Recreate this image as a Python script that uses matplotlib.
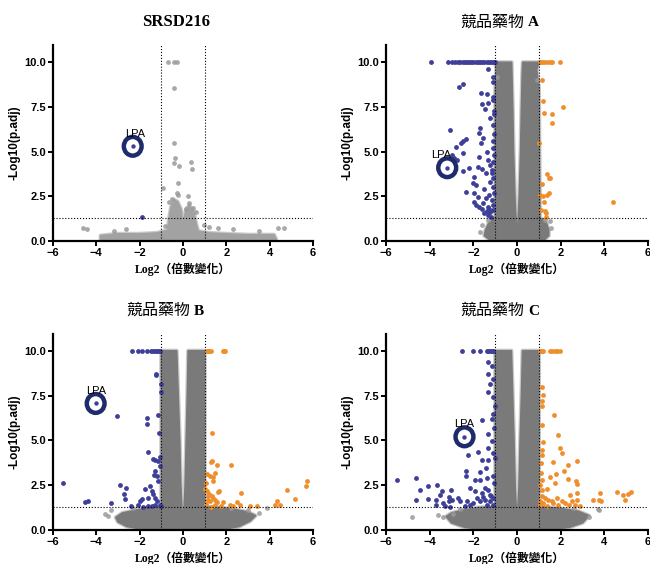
import matplotlib
matplotlib.use("Agg")
import matplotlib.pyplot as plt
from matplotlib.patches import Ellipse

# ---- SRSD216 ----
s_cloud_x = [-3.8, -3.8, -3.0, -2.0, -1.2, -0.7, -0.65, -0.55, -0.4, -0.25, -0.1, -0.04, 0.0,
             0.06, 0.15, 0.3, 0.5, 0.6, 0.7, 1.2, 2.0, 3.0, 4.2, 4.3, 3.0, 0.0]
s_cloud_y = [0.05, 0.3, 0.4, 0.4, 0.45, 0.6, 1.2, 1.9, 2.3, 2.2, 1.8, 1.3, 0.5,
             1.3, 1.8, 2.0, 1.6, 1.0, 0.55, 0.45, 0.4, 0.35, 0.35, 0.1, 0.03, 0.0]
s_grey_x = [-0.71, -0.4, -0.29, -0.4, -0.4, -0.35, -0.42, -0.17, 0.35, 0.4, -0.23, -0.91, -0.29,
            -0.25, -0.49, -0.63, 0.21, 0.45, 0.6, 0.12, 0.29, -4.6, -4.42, 4.4, 4.67, 2.32, 1.62,
            1.22, -2.64, -3.2, 3.5, 0.95, -0.85]
s_grey_y = [10.0, 10.0, 10.0, 8.57, 5.49, 4.62, 4.34, 4.21, 4.43, 4.02, 3.26, 2.94, 2.7,
            2.57, 2.35, 2.2, 2.51, 1.86, 1.64, 1.8, 2.1, 0.74, 0.65, 0.7, 0.74, 0.68, 0.72,
            0.76, 0.65, 0.55, 0.55, 0.9, 0.85]
s_top_blue = []
s_top_orange = []
s_blue_x = [-1.91]
s_blue_y = [1.32]
s_orange_x = []
s_orange_y = []
s_lpa = (-2.32, 5.3)

# ---- 競品藥物 A ----
a_cloud_x = [-1.0, -0.95, -1.0, -1.0, -1.3, -1.45, -1.5, -1.2, 0.0, 1.2, 1.45, 1.45, 1.35, 1.05,
             1.0, 0.9, 1.0, 0.26, 0.24, 0.2, 0.16, 0.1, 0.04, 0.0, -0.04, -0.1, -0.16, -0.2, -0.24, -0.25]
a_cloud_y = [10, 9.6, 8.5, 1.3, 1.0, 0.6, 0.3, 0.02, 0.0, 0.02, 0.3, 0.6, 1.0, 1.3,
             8.5, 9.6, 10, 10, 9.5, 7.5, 5.0, 2.5, 1.0, 0.4, 1.0, 2.5, 5.0, 7.5, 9.5, 10]
a_grey_x = [-1.6, -1.7, 1.55, 1.5, 0.9, -0.9, -1.35, 1.3]
a_grey_y = [0.9, 0.5, 0.7, 1.1, 9.0, 9.2, 1.2, 1.2]
a_top_blue = [-3.95, -3.15, -3.0, -2.85, -2.7, -2.6, -2.5, -2.4, -2.3, -2.2, -2.1, -2.0, -1.9,
              -1.8, -1.7, -1.6, -1.5, -1.4, -1.3, -1.2, -1.1, -1.02]
a_top_orange = [1.05, 1.15, 1.25, 1.35, 1.5, 1.62, 1.95]
a_blue_x = [-1.31, -2.5, -2.66, -1.66, -1.36, -1.62, -1.45, -1.31, -1.08, -1.04, -1.05, -1.24,
            -3.07, -2.34, -2.49, -2.58, -2.79, -1.7, -1.73, -1.66, -1.56, -2.99, -2.88, -2.73,
            -2.5, -1.73, -1.78, -1.39, -1.31, -1.24, -1.62, -1.42, -1.16, -2.2, -2.46, -1.96,
            -2.0, -1.88, -2.34, -1.96, -1.81, -1.99, -1.88, -1.73, -1.57, -1.42, -1.34, -1.5,
            -1.34, -1.19, -1.11, -1.08, -1.1, -1.12, -1.06, -1.1, -1.08, -1.12, -1.06, -1.1,
            -1.14, -1.08, -1.12, -1.06, -1.15, -1.1, -1.22, -1.28, -1.4, -1.6, -1.3, -1.5, -1.25]
a_blue_y = [9.6, 8.77, 8.6, 8.3, 8.25, 7.65, 7.4, 7.7, 8.06, 7.13, 6.0, 6.86,
            6.2, 5.68, 5.59, 5.46, 5.27, 6.3, 6.02, 5.46, 5.74, 4.8, 4.62, 4.52,
            4.95, 4.7, 4.15, 5.0, 4.52, 4.25, 4.05, 3.78, 3.78, 4.06, 3.93, 3.59,
            3.22, 3.13, 2.76, 2.66, 2.48, 2.2, 2.01, 1.92, 2.1, 2.38, 1.92, 1.55,
            1.45, 1.36, 1.73, 9.2, 8.9, 7.9, 7.3, 6.5, 5.6, 5.2, 4.8, 4.4,
            3.95, 3.5, 3.0, 2.7, 2.3, 2.0, 1.6, 1.8, 1.7, 1.8, 2.6, 2.9, 3.3]
a_orange_x = [1.13, 1.2, 2.09, 1.22, 1.59, 1.59, 1.02, 1.39, 1.5, 1.46, 1.13, 1.05, 1.2, 1.36,
              1.47, 1.23, 1.26, 1.33, 1.08, 1.33, 4.41]
a_orange_y = [9.0, 7.84, 7.5, 7.17, 7.08, 6.61, 5.46, 3.74, 3.5, 3.5, 3.18, 2.57, 2.53, 2.57,
              2.66, 2.2, 1.69, 1.55, 1.73, 1.36, 2.2]
a_lpa = (-3.2, 4.1)

# ---- 競品藥物 B ----
b_cloud_x = [-1.0, -1.0, -1.6, -2.2, -2.8, -3.1, -3.0, -2.6, -1.8, 0.0, 1.8, 2.6, 3.1, 3.35,
             3.0, 2.4, 1.7, 1.0, 1.0, 0.24, 0.2, 0.15, 0.1, 0.05, 0.0, -0.05, -0.1, -0.15, -0.22, -0.29]
b_cloud_y = [10, 1.3, 1.25, 1.1, 0.95, 0.7, 0.45, 0.2, 0.02, 0.0, 0.02, 0.2, 0.5, 0.8,
             1.0, 1.15, 1.25, 1.3, 10, 10, 7.5, 5.0, 2.5, 1.2, 0.8, 1.2, 2.5, 5.0, 7.5, 10]
b_grey_x = [-3.45, 3.86, -3.3, 3.5, -3.6, 3.0, -2.3, 2.2]
b_grey_y = [0.8, 1.22, 1.1, 0.95, 0.9, 1.1, 1.2, 1.25]
b_top_blue = [-2.34, -2.06, -1.88, -1.68, -1.48, -1.37, -1.29, -1.22, -1.14, -1.06]
b_top_orange = [1.09, 1.15, 1.22, 1.28, 1.83, 1.88, 1.94]
b_blue_x = [-1.26, -1.24, -1.03, -1.0, -3.03, -1.68, -1.68, -1.15, -1.12, -1.6, -1.37, -1.29,
            -1.06, -1.15, -1.06, -1.29, -1.32, -1.2, -1.15, -5.52, -2.91, -2.65, -2.71, -2.68,
            -2.4, -1.75, -1.52, -1.45, -1.37, -1.29, -1.21, -1.6, -1.91, -1.98, -1.83, -1.6,
            -1.45, -1.29, -1.06, -1.02, -2.09, -4.52, -4.4, -3.32]
b_blue_y = [8.7, 8.65, 8.15, 7.68, 6.37, 6.24, 5.9, 6.42, 5.43, 4.36, 3.97, 3.93,
            4.08, 3.84, 3.56, 3.28, 3.09, 2.99, 2.71, 2.62, 2.49, 2.34, 2.0, 1.74,
            1.33, 2.28, 2.43, 2.15, 2.0, 1.78, 1.59, 1.78, 1.72, 1.59, 1.31, 1.32,
            1.35, 1.4, 1.4, 1.33, 1.4, 1.56, 1.63, 1.5]
b_orange_x = [1.35, 1.29, 1.35, 1.55, 2.21, 1.09, 1.24, 1.4, 1.47, 1.37, 1.02, 1.12, 1.21, 1.32,
              1.4, 1.17, 1.24, 1.48, 1.55, 1.63, 1.67, 1.28, 1.48, 2.66, 2.48, 2.63, 2.17, 2.29,
              1.86, 1.74, 3.09, 3.43, 4.81, 5.17, 5.66, 5.74, 4.32, 4.47, 4.25, 1.05, 1.15, 1.08]
b_orange_y = [5.39, 3.78, 3.84, 3.6, 3.61, 3.13, 2.99, 2.94, 3.18, 2.71, 2.3, 2.15, 2.0, 1.87,
              1.78, 1.69, 1.59, 1.65, 1.54, 2.1, 2.19, 1.31, 1.4, 2.06, 1.54, 1.37, 1.4, 1.35,
              1.54, 1.32, 1.32, 1.32, 2.25, 1.72, 2.47, 2.75, 1.59, 1.4, 1.37, 1.45, 1.9, 2.6]
b_lpa = (-4.03, 7.06)

# ---- 競品藥物 C ----
c_cloud_x = [-1.0, -1.0, -1.8, -2.5, -3.0, -3.25, -3.0, -2.4, -1.5, 0.0, 1.5, 2.4, 3.0, 3.3,
             2.8, 2.0, 1.0, 1.0, 0.25, 0.2, 0.14, 0.09, 0.04, 0.0, -0.04, -0.09, -0.14, -0.2, -0.26]
c_cloud_y = [10, 1.3, 1.25, 1.1, 0.95, 0.75, 0.4, 0.15, 0.02, 0.0, 0.02, 0.15, 0.4, 0.8,
             1.05, 1.2, 1.3, 10, 10, 7.5, 5.0, 2.5, 1.3, 0.8, 1.3, 2.5, 5.0, 7.5, 10]
c_grey_x = [-4.82, -3.62, -3.39, -2.95, 3.73, 3.76, 3.3, -2.6, 2.6]
c_grey_y = [0.75, 0.85, 0.75, 0.9, 1.18, 1.1, 0.7, 1.15, 1.2]
c_top_blue = [-2.53, -2.0, -1.69, -1.39, -1.31, -1.24, -1.16, -1.08]
c_top_orange = [1.05, 1.12, 1.2, 1.5, 1.62, 1.72, 1.85, 1.95]
c_blue_x = [-1.31, -1.16, -1.31, -1.08, -1.22, -1.31, -1.08, -1.0, -1.12, -1.16, -1.62, -1.31,
            -1.16, -1.31, -1.08, -1.31, -1.0, -2.23, -1.77, -1.62, -2.34, -2.34, -1.69, -1.92,
            -1.69, -1.42, -1.39, -3.02, -2.15, -1.94, -1.62, -1.47, -1.31, -1.24, -1.85, -1.47,
            -1.24, -1.08, -1.39, -1.08, -1.69, -2.0, -2.15, -2.3, -2.38, -5.51, -4.63, -4.44,
            -4.09, -3.65, -4.63, -4.09, -3.7, -3.42, -3.53, -3.14, -2.99, -3.14, -3.06, -2.69,
            -2.61, -3.7, -3.38, -3.3, -1.05, -1.1, -1.05, -1.2, -1.55]
c_blue_y = [9.36, 9.17, 8.7, 8.43, 8.15, 7.68, 7.4, 6.93, 6.46, 6.18, 6.14, 5.34,
            4.96, 4.59, 4.31, 3.93, 4.03, 4.18, 4.36, 3.93, 3.31, 2.99, 3.26, 2.81,
            2.77, 3.46, 2.9, 2.25, 2.34, 2.15, 2.06, 2.34, 2.25, 1.97, 1.78, 1.69,
            1.59, 1.78, 1.4, 1.4, 1.59, 1.5, 1.4, 1.59, 1.32, 2.77, 2.9, 2.21,
            2.43, 2.49, 1.69, 1.74, 1.69, 2.19, 1.97, 1.82, 1.69, 1.59, 1.31, 1.78,
            1.59, 1.4, 1.5, 1.32, 2.6, 3.0, 5.7, 1.9, 1.85]
c_orange_x = [1.13, 1.2, 1.16, 1.13, 1.13, 1.2, 1.16, 1.13, 1.1, 1.7, 1.87, 1.97, 2.05, 1.66,
              2.76, 2.32, 2.17, 1.77, 1.51, 1.74, 2.32, 2.69, 2.76, 1.36, 1.05, 1.13, 2.76, 2.44,
              2.74, 3.8, 3.46, 3.77, 4.57, 4.83, 4.95, 5.06, 5.21, 1.13, 1.28, 1.43, 1.59, 1.66,
              1.81, 1.89, 2.05, 2.2, 2.36, 2.51, 2.66, 2.89, 1.2, 1.36, 1.05, 3.83, 1.1, 1.15, 1.05]
c_orange_y = [7.96, 7.55, 7.21, 6.93, 5.84, 4.93, 4.49, 4.21, 3.75, 6.42, 5.3, 4.59, 4.31, 3.8,
              3.84, 3.65, 3.28, 3.13, 2.94, 2.62, 2.87, 2.71, 2.56, 2.3, 2.49, 2.24, 2.06, 1.97,
              1.65, 2.06, 1.65, 1.65, 2.12, 1.97, 1.65, 2.0, 2.1, 1.87, 1.78, 1.69, 1.59, 1.5,
              1.78, 1.4, 1.59, 1.5, 1.4, 1.59, 1.37, 1.35, 1.5, 1.32, 1.4, 1.6, 3.2, 2.8, 1.6]
c_lpa = (-2.41, 5.2)

BLUE = "#3d3f98"
ORANGE = "#ef8e2b"
GREY = "#7a7a7a"
RING = "#1f2c6c"
SERIF_CJK = ["Liberation Serif", "Noto Sans CJK TC"]


def draw_title(ax, cjk, latin):
    # CJK part in plain sans, latin part in bold serif, sharing one baseline
    if cjk:
        ax.text(0.528, 1.097, cjk, transform=ax.transAxes, ha="right", va="baseline",
                fontsize=11.5, family="Noto Sans CJK TC")
        ax.text(0.543, 1.097, latin, transform=ax.transAxes, ha="left", va="baseline",
                fontsize=11, fontweight="bold", family="Liberation Serif")
    else:
        ax.text(0.473, 1.097, latin, transform=ax.transAxes, ha="center", va="baseline",
                fontsize=12, fontweight="bold", family="Liberation Serif")


def draw_panel(ax, cjk, latin, cloud, grey, top_blue, top_orange, blue, orange, lpa,
               lpa_dx=0.0, cloud_color=GREY):
    # soft edge first, then the dense cloud itself
    ax.fill(cloud[0], cloud[1], color="#a8a8a8", lw=3, ec="#a8a8a8",
            alpha=0.6, zorder=1, joinstyle="round")
    ax.fill(cloud[0], cloud[1], color=cloud_color, lw=1.2, ec=cloud_color,
            zorder=1, joinstyle="round")
    ax.scatter(grey[0], grey[1], s=12, color="#9a9a9a", alpha=0.85, lw=0, zorder=2)
    ax.scatter(top_blue, [10] * len(top_blue), s=12, color=BLUE, lw=0, zorder=3)
    ax.scatter(top_orange, [10] * len(top_orange), s=12, color=ORANGE, lw=0, zorder=3)
    ax.scatter(blue[0], blue[1], s=12, color=BLUE, lw=0, zorder=3)
    ax.scatter(orange[0], orange[1], s=12, color=ORANGE, lw=0, zorder=3)

    # LPA highlight
    ax.scatter([lpa[0]], [lpa[1]], s=10, color=BLUE, lw=0, zorder=4)
    ax.add_patch(Ellipse(lpa, 0.82, 1.05, fill=False, ec=RING, lw=3.2, zorder=5))
    ax.text(lpa[0] + lpa_dx, lpa[1] + 0.7, "LPA", ha="center", va="center",
            fontsize=8, family="Liberation Sans", zorder=6)

    ax.axhline(1.3, color="black", ls=":", lw=0.8, zorder=6)
    ax.axvline(-1, color="black", ls=":", lw=0.8, zorder=6)
    ax.axvline(1, color="black", ls=":", lw=0.8, zorder=6)

    ax.set_xlim(-6, 6)
    ax.set_ylim(0, 10.95)
    ax.set_xticks([-6, -4, -2, 0, 2, 4, 6])
    ax.set_yticks([0, 2.5, 5, 7.5, 10])
    ax.set_yticklabels(["0.0", "2.5", "5.0", "7.5", "10.0"])
    for sp in ["top", "right"]:
        ax.spines[sp].set_visible(False)
    for sp in ["left", "bottom"]:
        ax.spines[sp].set_linewidth(1.6)
    ax.tick_params(width=1.4, length=3.5, labelsize=8, pad=1.5)
    for lab in ax.get_xticklabels() + ax.get_yticklabels():
        lab.set_fontweight("bold")
        lab.set_family("Liberation Sans")

    ax.set_ylabel("-Log10(p.adj)", fontsize=8.5, fontweight="bold",
                  family="Liberation Sans", labelpad=3)
    ax.set_xlabel("Log2（倍數變化）", fontsize=8.5, fontweight="bold",
                  family=SERIF_CJK, labelpad=3)
    draw_title(ax, cjk, latin)


fig = plt.figure(figsize=(6.5, 5.64), dpi=100)
ax1 = fig.add_axes([0.0815, 0.5727, 0.40, 0.347])
ax2 = fig.add_axes([0.594, 0.5727, 0.403, 0.347])
ax3 = fig.add_axes([0.0815, 0.0603, 0.40, 0.348])
ax4 = fig.add_axes([0.594, 0.0603, 0.403, 0.348])

draw_panel(ax1, "", "SRSD216", (s_cloud_x, s_cloud_y), (s_grey_x, s_grey_y),
           s_top_blue, s_top_orange, (s_blue_x, s_blue_y), (s_orange_x, s_orange_y),
           s_lpa, lpa_dx=0.1, cloud_color="#a2a2a2")
draw_panel(ax2, "競品藥物", "A", (a_cloud_x, a_cloud_y), (a_grey_x, a_grey_y),
           a_top_blue, a_top_orange, (a_blue_x, a_blue_y), (a_orange_x, a_orange_y),
           a_lpa, lpa_dx=-0.3)
draw_panel(ax3, "競品藥物", "B", (b_cloud_x, b_cloud_y), (b_grey_x, b_grey_y),
           b_top_blue, b_top_orange, (b_blue_x, b_blue_y), (b_orange_x, b_orange_y),
           b_lpa)
draw_panel(ax4, "競品藥物", "C", (c_cloud_x, c_cloud_y), (c_grey_x, c_grey_y),
           c_top_blue, c_top_orange, (c_blue_x, c_blue_y), (c_orange_x, c_orange_y),
           c_lpa)

fig.savefig("out.png", dpi=100)
